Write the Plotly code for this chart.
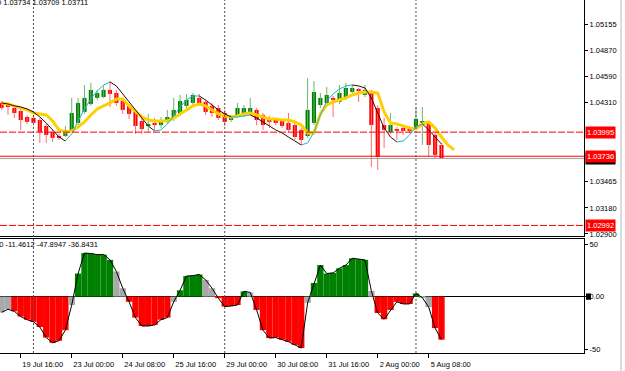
import plotly.graph_objects as go

# ---------------- data ----------------
opens = [1.04309, 1.04298, 1.04255, 1.04223, 1.04158, 1.04148, 1.04126, 1.04062, 1.03997, 1.03954,
         1.03954, 1.04019, 1.04094, 1.04212, 1.04298, 1.04363, 1.04373, 1.04449, 1.04416, 1.04330,
         1.04277, 1.04212, 1.04115, 1.04062, 1.04083, 1.04072, 1.04105, 1.04148, 1.04191, 1.04277,
         1.04309, 1.04363, 1.04320, 1.04277, 1.04255, 1.04201, 1.04126, 1.04158, 1.04180, 1.04201,
         1.04234, 1.04180, 1.04137, 1.04126, 1.04115, 1.04094, 1.04072, 1.04019, 1.03954, 1.04094,
         1.04287, 1.04309, 1.04363, 1.04320, 1.04363, 1.04427, 1.04449, 1.04395, 1.04427, 1.04255,
         1.04072, 1.03997, 1.04029, 1.04040, 1.04029, 1.04040, 1.04094, 1.04094, 1.03965, 1.03857]
highs = [1.04330, 1.04309, 1.04277, 1.04244, 1.04180, 1.04169, 1.04148, 1.04083, 1.04019, 1.03976,
         1.04062, 1.04363, 1.04363, 1.04502, 1.04524, 1.04449, 1.04492, 1.04545, 1.04449, 1.04352,
         1.04298, 1.04234, 1.04148, 1.04191, 1.04148, 1.04158, 1.04234, 1.04363, 1.04395, 1.04406,
         1.04416, 1.04406, 1.04341, 1.04309, 1.04287, 1.04234, 1.04180, 1.04309, 1.04287, 1.04363,
         1.04255, 1.04201, 1.04169, 1.04148, 1.04137, 1.04201, 1.04094, 1.04040, 1.04578, 1.04545,
         1.04416, 1.04481, 1.04384, 1.04502, 1.04524, 1.04502, 1.04470, 1.04502, 1.04449, 1.04287,
         1.04148, 1.04201, 1.04051, 1.04072, 1.04051, 1.04266, 1.04266, 1.04115, 1.03986, 1.03879]
lows = [1.04234, 1.04180, 1.04148, 1.04019, 1.04083, 1.04072, 1.03879, 1.03879, 1.03890, 1.03911,
        1.03943, 1.04008, 1.04072, 1.04191, 1.04277, 1.04341, 1.04363, 1.04266, 1.04277, 1.04191,
        1.04137, 1.03976, 1.03976, 1.03997, 1.04019, 1.04040, 1.04083, 1.04115, 1.04169, 1.04244,
        1.04287, 1.04277, 1.04180, 1.04158, 1.04126, 1.04062, 1.04105, 1.04148, 1.04158, 1.04180,
        1.04072, 1.04019, 1.04040, 1.04072, 1.04040, 1.03997, 1.03911, 1.03857, 1.03933, 1.04072,
        1.04255, 1.04287, 1.04158, 1.04298, 1.04341, 1.04416, 1.04320, 1.04373, 1.03621, 1.03589,
        1.03825, 1.03976, 1.03911, 1.03965, 1.03986, 1.04019, 1.03857, 1.03728, 1.03718, 1.03707]
closes = [1.04255, 1.04266, 1.04201, 1.04126, 1.04105, 1.04094, 1.03997, 1.03965, 1.03933, 1.03933,
          1.04019, 1.04201, 1.04309, 1.04363, 1.04449, 1.04416, 1.04449, 1.04406, 1.04309, 1.04234,
          1.04191, 1.04062, 1.04029, 1.04083, 1.04072, 1.04115, 1.04158, 1.04234, 1.04330, 1.04341,
          1.04395, 1.04298, 1.04212, 1.04201, 1.04148, 1.04105, 1.04158, 1.04255, 1.04255, 1.04255,
          1.04126, 1.04072, 1.04105, 1.04094, 1.04062, 1.04019, 1.03943, 1.03911, 1.04234, 1.04427,
          1.04363, 1.04395, 1.04341, 1.04416, 1.04470, 1.04470, 1.04438, 1.04449, 1.04072, 1.03728,
          1.04019, 1.04072, 1.04008, 1.04008, 1.04008, 1.04137, 1.04105, 1.03857, 1.03750, 1.03711]

ma_fast = [1.04309, 1.04298, 1.04277, 1.04266, 1.04244, 1.04212, 1.04158, 1.04094, 1.04019, 1.03943,
           1.03900, 1.03976, 1.04115, 1.04244, 1.04352, 1.04438, 1.04502, 1.04535, 1.04492, 1.04406,
           1.04320, 1.04234, 1.04148, 1.04062, 1.04008, 1.04019, 1.04083, 1.04169, 1.04266, 1.04341,
           1.04384, 1.04384, 1.04341, 1.04287, 1.04234, 1.04191, 1.04158, 1.04158, 1.04169, 1.04180,
           1.04148, 1.04105, 1.04062, 1.04019, 1.03986, 1.03943, 1.03900, 1.03857, 1.03879, 1.03997,
           1.04180, 1.04330, 1.04406, 1.04459, 1.04492, 1.04502, 1.04492, 1.04470, 1.04363, 1.04201,
           1.04040, 1.03943, 1.03890, 1.03900, 1.03965, 1.04051, 1.04083, 1.04019, 1.03943, 1.03868]

ma_slow = [1.04309, 1.04298, 1.04277, 1.04255, 1.04234, 1.04201, 1.04191, 1.04180, 1.04115, 1.04019,
           1.03997, 1.04008, 1.04051, 1.04105, 1.04180, 1.04244, 1.04277, 1.04309, 1.04352, 1.04352,
           1.04277, 1.04212, 1.04158, 1.04126, 1.04115, 1.04115, 1.04115, 1.04148, 1.04191, 1.04234,
           1.04277, 1.04298, 1.04277, 1.04234, 1.04191, 1.04169, 1.04158, 1.04169, 1.04191, 1.04201,
           1.04180, 1.04158, 1.04137, 1.04137, 1.04126, 1.04126, 1.04105, 1.04072, 1.03986, 1.03986,
           1.04191, 1.04287, 1.04320, 1.04341, 1.04363, 1.04395, 1.04416, 1.04427, 1.04427, 1.04416,
           1.04212, 1.04094, 1.04083, 1.04062, 1.04040, 1.04029, 1.04083, 1.04105, 1.04040, 1.03943,
           1.03857, 1.03804]

osc_values = [-15, -12, -14, -19, -22, -24, -29, -39, -44, -42,
              -32, -8, 22, 41.5, 41, 40, 40, 35, 24, 8,
              -5, -20, -28, -28, -27, -22, -20, -5, 6, 19.6,
              20, 21, 16, 8, -1.5, -9.5, -9, -8, 5, 4,
              -12.7, -32, -39.5, -39, -41, -43, -46, -49, -6, 13,
              30, 22, 22.6, 27, 30, 36.5, 35.7, 35, 5.4, -15.6,
              -21.6, -12.7, -5, -7, -7, 3, -1, -10, -30, -41]
osc_state = ["n", "n", "r", "r", "r", "r", "r", "r", "r", "r",
             "r", "n", "g", "g", "g", "g", "g", "g", "n", "n",
             "r", "r", "r", "r", "r", "r", "r", "n", "g", "g",
             "g", "g", "n", "n", "r", "r", "r", "r", "g", "n",
             "r", "r", "r", "r", "r", "r", "r", "r", "n", "g",
             "g", "g", "g", "g", "g", "g", "g", "g", "n", "r",
             "r", "r", "r", "r", "r", "g", "n", "n", "r", "r"]

tick_bars = [3, 11, 19, 27, 35, 43, 51, 59, 67]
tick_labels = ["19 Jul 16:00", "23 Jul 00:00", "24 Jul 08:00", "25 Jul 16:00", "29 Jul 00:00",
               "30 Jul 08:00", "31 Jul 16:00", "2 Aug 00:00", "5 Aug 08:00"]
partial_tick_bar = -5
partial_tick_label = "18 Jul 08:00"
week_starts = [5, 35, 65]

price_ticks = [1.05155, 1.04870, 1.04590, 1.04310, 1.03465, 1.03180, 1.02900]
osc_ticks = [50, 0, -50]
osc_tick_labels = ["50", "0.00", "-50"]

level_dashed = [1.03995, 1.02992]
level_solid = 1.03736
bid_price = 1.03711

header_main = "1.03740 1.03734 1.03709 1.03711"
header_osc = "0.0 -11.4612 -47.8947 -36.8431"

# ---------------- styling ----------------
FONT = "Liberation Sans"
FS = 7.5
GREEN = "#008000"
RED = "#ff0000"
GREEN_WICK = "#6cb56c"
RED_WICK = "#ff6b6b"
GRAY = "#a9a9a9"
W, H = 625, 371
ML, MR, MT, MB = 0, 41, 0, 18
PLOT_W = W - ML - MR
PLOT_H = H - MT - MB

bars = list(range(len(opens)))

fig = go.Figure()

# wicks
for up, col in ((True, GREEN_WICK), (False, RED_WICK)):
    xs, ys = [], []
    for i in bars:
        if (closes[i] >= opens[i]) == up:
            xs += [i, i, None]
            ys += [lows[i], highs[i], None]
    fig.add_trace(go.Scatter(x=xs, y=ys, mode="lines", line=dict(color=col, width=1),
                             hoverinfo="skip", xaxis="x", yaxis="y"))

# bodies
for up, col in ((True, GREEN), (False, RED)):
    idx = [i for i in bars if (closes[i] >= opens[i]) == up]
    fig.add_trace(go.Bar(x=idx,
                         y=[abs(closes[i] - opens[i]) for i in idx],
                         base=[min(opens[i], closes[i]) for i in idx],
                         width=0.65, marker=dict(color=col, line=dict(width=0)),
                         xaxis="x", yaxis="y"))

# slow (shifted) MA
fig.add_trace(go.Scatter(x=list(range(len(ma_slow))), y=ma_slow, mode="lines",
                         line=dict(color="#ffd000", width=3), xaxis="x", yaxis="y"))

# fast MA coloured by direction
for rising, col in ((True, "#1ab8c8"), (False, "#3a0505")):
    xs, ys = [], []
    for i in range(len(ma_fast) - 1):
        if (ma_fast[i + 1] >= ma_fast[i]) == rising:
            xs += [i, i + 1, None]
            ys += [ma_fast[i], ma_fast[i + 1], None]
    fig.add_trace(go.Scatter(x=xs, y=ys, mode="lines", line=dict(color=col, width=1),
                             xaxis="x", yaxis="y"))

# oscillator histogram
colmap = {"g": GREEN, "r": RED, "n": GRAY}
fig.add_trace(go.Bar(x=bars, y=osc_values, width=1.0,
                     marker=dict(color=[colmap[s] for s in osc_state], line=dict(width=0)),
                     xaxis="x2", yaxis="y2"))
fig.add_trace(go.Scatter(x=bars, y=osc_values, mode="lines", line=dict(color="black", width=1),
                         xaxis="x2", yaxis="y2"))

# ---------------- layout ----------------
px_per_bar = 6.375
x0 = -1.6 / px_per_bar
x1 = x0 + PLOT_W / px_per_bar
main_top_px, main_bot_px = 0, 236
osc_top_px = 239
p_top = 1.05416
p_per_px = 0.00010753
main_range = [p_top - (main_bot_px - main_top_px) * p_per_px, p_top]
osc_zero_px = 296.6 - osc_top_px
osc_px_per_unit = 1.05
osc_range = [-(PLOT_H - osc_top_px - osc_zero_px) / osc_px_per_unit, osc_zero_px / osc_px_per_unit]

axfont = dict(family=FONT, size=FS, color="black")

fig.update_layout(
    width=W, height=H, margin=dict(l=ML, r=MR, t=MT, b=MB),
    plot_bgcolor="white", paper_bgcolor="white", showlegend=False,
    barmode="overlay", hovermode=False,
    font=dict(family=FONT, size=FS, color="black"),
    xaxis=dict(domain=[0, 1], anchor="y", range=[x0, x1], showticklabels=False, ticks="",
               showline=True, linecolor="black", linewidth=1, showgrid=False, zeroline=False),
    xaxis2=dict(domain=[0, 1], anchor="y2", range=[x0, x1], showline=True, mirror=True,
                linecolor="black", linewidth=1, showgrid=False, zeroline=False,
                ticks="outside", ticklen=4, tickcolor="black",
                tickvals=tick_bars, ticktext=tick_labels, ticklabelshift=22, tickfont=axfont),
    yaxis=dict(domain=[1 - main_bot_px / PLOT_H, 1], anchor="x", side="right", range=main_range,
               tickvals=price_ticks, ticktext=[f"{v:.5f}" for v in price_ticks],
               ticks="outside", ticklen=3, tickcolor="black", tickfont=axfont,
               showline=True, linecolor="black", linewidth=1, showgrid=False, zeroline=False),
    yaxis2=dict(domain=[0, 1 - osc_top_px / PLOT_H], anchor="x2", side="right", range=osc_range,
                tickvals=osc_ticks, ticktext=osc_tick_labels,
                ticks="outside", ticklen=3, tickcolor="black", tickfont=axfont,
                showline=True, linecolor="black", linewidth=1, showgrid=False,
                zeroline=True, zerolinecolor="black", zerolinewidth=1),
)

shapes = []
for lv in level_dashed:
    shapes.append(dict(type="line", xref="paper", x0=0, x1=1, yref="y", y0=lv, y1=lv,
                       line=dict(color=RED, width=1, dash="7px,2px"), layer="above"))
shapes.append(dict(type="line", xref="paper", x0=0, x1=1, yref="y", y0=bid_price, y1=bid_price,
                   line=dict(color="#a0a0a0", width=1), layer="above"))
shapes.append(dict(type="line", xref="paper", x0=0, x1=1, yref="y", y0=level_solid, y1=level_solid,
                   line=dict(color=RED, width=1), layer="above"))
for ws in week_starts:
    shapes.append(dict(type="line", xref="x", x0=ws, x1=ws, yref="paper", y0=0, y1=1,
                       line=dict(color="#505050", width=1, dash="2px,2px"), layer="above"))
# current-value marker on the oscillator scale
shapes.append(dict(type="rect", xref="paper", x0=1 + 2 / PLOT_W, x1=1 + 7 / PLOT_W,
                   yref="y2", y0=-3, y1=3, fillcolor="black", line=dict(width=0), layer="above"))
# neighbouring window edge
shapes.append(dict(type="line", xref="paper", x0=1 + 37 / PLOT_W, x1=1 + 37 / PLOT_W,
                   yref="paper", y0=-MB / PLOT_H, y1=1, line=dict(color="#b8b8b8", width=1)))
fig.update_layout(shapes=shapes)

ann = []
ann.append(dict(text=header_main, xref="paper", x=90 / PLOT_W, xanchor="right",
                yref="paper", y=1 - 2.5 / PLOT_H, yanchor="middle", showarrow=False,
                font=dict(family=FONT, size=FS, color="black")))
ann.append(dict(text=header_osc, xref="paper", x=100 / PLOT_W, xanchor="right",
                yref="paper", y=(PLOT_H - 245) / PLOT_H, yanchor="middle", showarrow=False,
                font=dict(family=FONT, size=FS, color="black")))
ann.append(dict(text=partial_tick_label, xref="x2", x=partial_tick_bar, xanchor="left", xshift=2,
                yref="paper", y=-9 / PLOT_H, yanchor="middle", showarrow=False,
                font=dict(family=FONT, size=FS, color="black")))
labels = [(bid_price, "black"), (level_dashed[0], RED), (level_solid, RED), (level_dashed[1], RED)]
for val, bg in labels:
    ann.append(dict(text=f"{val:.5f}", xref="paper", x=1, xanchor="left", xshift=1,
                    yref="y", y=val, yanchor="middle", showarrow=False, bgcolor=bg,
                    borderpad=1, font=dict(family=FONT, size=FS, color="white")))
fig.update_layout(annotations=ann)

fig.write_html("out.html")
